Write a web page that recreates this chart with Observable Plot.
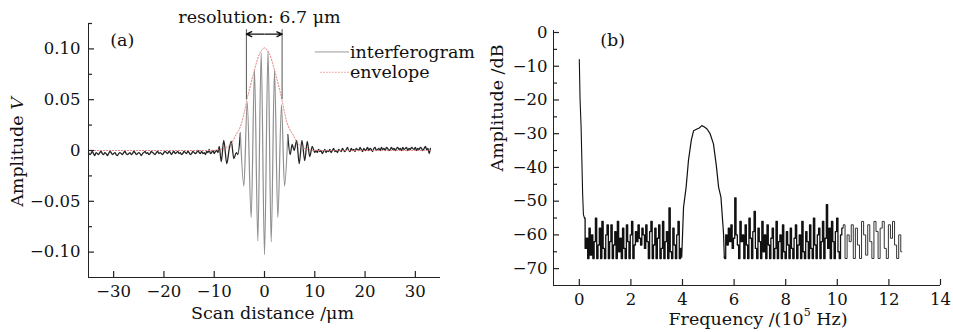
<!DOCTYPE html>
<html><head><meta charset="utf-8">
<script src="https://cdn.jsdelivr.net/npm/d3@7"></script>
<script src="https://cdn.jsdelivr.net/npm/@observablehq/plot@0.6"></script>
<style>
body{margin:0;background:#fff;}
#wrap{display:flex;width:953px;height:332px;overflow:hidden;}
svg{display:block;flex:none;}
</style></head><body><div id="wrap"></div>
<script>
// ---------- Panel (a): interferogram ----------
const xTicksA = [-30, -20, -10, 0, 10, 20, 30];
const yTicksA = [-0.10, -0.05, 0, 0.05, 0.10];
const yMinorA = [-0.075, -0.025, 0.025, 0.075, 0.125];
// noise before the fringes, sampled every 0.25 um starting at -35 um
const noiseLeftStart = -35, noiseStep = 0.25;
const noiseLeftY = [
-0.002,-0.004,-0.003,-0.001,-0.003,-0.005,-0.002,-0.003,-0.004,-0.002,
-0.001,-0.003,-0.004,-0.002,-0.003,-0.005,-0.003,-0.001,-0.002,-0.004,
-0.003,-0.002,-0.004,-0.005,-0.003,-0.002,-0.003,-0.004,-0.002,-0.001,
-0.003,-0.004,-0.003,-0.002,-0.004,-0.003,-0.001,-0.002,-0.004,-0.003,
-0.002,-0.003,-0.005,-0.003,-0.002,-0.001,-0.003,-0.002,-0.004,-0.003,
-0.001,-0.002,-0.003,-0.004,-0.002,-0.001,-0.003,-0.002,-0.003,-0.004,
-0.002,-0.001,-0.002,-0.003,-0.001,-0.002,-0.004,-0.002,-0.001,-0.003,
-0.002,-0.001,-0.003,-0.002,-0.004,-0.003,-0.001,-0.002,-0.003,-0.001,
-0.002,-0.004,-0.003,-0.001,-0.002,-0.003,-0.002,0.000,-0.002,-0.003,
-0.001,-0.003,-0.002,-0.004,-0.001,-0.002,0.001,-0.003,-0.002,0.000,
-0.003,-0.001,0.000];
const sideLX = [-9.25,-9.0,-8.6,-8.1,-7.5,-7.0,-6.6,-6.1,-5.6,-5.3,-4.8];
const sideLY = [-0.002,0.004,-0.011,0.010,-0.013,0.002,0.009,-0.008,-0.002,-0.004,0.017];
const fringeX = [-4.8,-4.1,-3.44,-2.65,-1.99,-1.33,-0.66,0,0.7,1.33,1.99,2.65,3.38,3.98,4.63];
const fringeY = [0.017,-0.035,0.048,-0.066,0.079,-0.089,0.096,-0.1025,0.098,-0.09,0.079,-0.066,0.045,-0.035,0.0155];
const sideRX = [4.63,5.1,5.5,5.9,6.4,6.9,7.45,8.0,8.5,9.0,9.5,10.0];
const sideRY = [0.0155,-0.004,0.006,0.000,0.010,-0.013,0.010,-0.010,0.009,-0.006,0.004,-0.002];
const noiseRightStart = 10.25;
const noiseRightY = [
0.000,-0.002,0.001,-0.001,0.000,-0.003,-0.001,0.001,-0.002,0.000,
-0.001,0.001,-0.002,0.000,0.002,-0.001,0.000,-0.002,0.001,0.000,
-0.001,0.002,0.000,-0.001,0.001,0.003,0.000,-0.001,0.002,0.000,
0.001,-0.001,0.002,0.001,0.000,0.003,0.001,-0.001,0.002,0.000,
0.001,0.003,0.000,0.002,0.001,-0.001,0.002,0.003,0.000,0.001,
0.002,0.000,0.003,0.001,0.002,0.000,0.003,0.002,0.000,0.001,
0.003,0.001,0.002,0.000,0.002,0.003,0.001,0.002,0.000,0.003,
0.001,0.002,0.003,0.000,0.002,0.001,0.003,0.002,0.001,0.003,
0.000,0.002,0.001,0.003,0.002,0.000,0.002,0.004,0.001,0.002,
-0.003,0.002];
const envX = [-35,-20,-12,-10,-9,-8,-7.5,-6.5,-5.5,-5,-4.5,-4,-3.5,-3,-2.5,-2,-1.5,-1,-0.5,0,0.5,1,1.5,2,2.5,3,3.5,4,4.5,5,5.5,6.5,7.5,8.5,10,20,33];
const envY = [0.000,0.000,0.000,0.000,0.001,0.002,0.003,0.008,0.017,0.021,0.028,0.038,0.050,0.060,0.070,0.079,0.088,0.095,0.099,0.101,0.099,0.095,0.088,0.079,0.070,0.060,0.049,0.037,0.027,0.021,0.017,0.008,0.003,0.001,0.000,0.000,0.000];
const resolutionX = [-3.6, 3.5];
const legendA = ["interferogram", "envelope"];
const titleA = "resolution: 6.7 μm";

// ---------- Panel (b): spectrum ----------
const xTicksB = [0, 2, 4, 6, 8, 10, 12, 14];
const yTicksB = [0, -10, -20, -30, -40, -50, -60, -70];
const yMinorB = [-5, -15, -25, -35, -45, -55, -65];
const spikeX = [0, 0.03, 0.07, 0.1, 0.13, 0.16, 0.2];
const spikeY = [-8, -20, -28, -38, -48, -54, -55];
const noiseBLStart = 0.2, noiseBStep = 0.05;
const noiseBL = [
-55,-64,-61,-67,-58,-66,-60,-67,-62,-55,
-67,-63,-58,-67,-56,-64,-67,-60,-57,-67,
-62,-57,-67,-63,-59,-67,-56,-65,-61,-67,
-58,-64,-67,-57,-62,-67,-60,-56,-67,-63,
-59,-62,-57,-61,-63,-58,-60,-64,-57,-62,
-67,-59,-56,-67,-63,-58,-67,-61,-57,-67,
-64,-56,-67,-62,-59,-67,-52,-65,-67,-58,
-63,-67,-60,-56,-67,-64];
const peakX = [3.97,4.04,4.14,4.23,4.34,4.43,4.56,4.65,4.75,4.85,4.95,5.07,5.2,5.31,5.4,5.49,5.59,5.62];
const peakY = [-66.6,-51.8,-45.9,-38,-32,-29.1,-28.6,-28.3,-27.6,-28,-28.6,-30,-33,-39.4,-45.9,-48.8,-59.6,-66.6];
const noiseBR1Start = 5.65;
const noiseBR1 = [
-67,-60,-63,-58,-62,-57,-64,-61,-49,-60,
-63,-67,-56,-62,-60,-67,-57,-63,-67,-55,
-61,-67,-59,-53,-64,-67,-58,-62,-67,-56,
-65,-60,-67,-57,-63,-67,-61,-58,-67,-64,
-56,-67,-62,-60,-67,-57,-65,-67,-59,-63,
-67,-58,-64,-67,-61,-57,-67,-63,-60,-67,
-56,-65,-67,-59,-62,-67,-57,-64,-67,-55,
-63,-67,-60,-58,-67,-62,-56,-67,-61,-51,
-64,-58,-67,-56,-62,-67,-59,-55,-65,-67,
-60,-58];
const noiseBR2Start = 10.26, noiseBR2Step = 0.08;
const noiseBR2 = [-57,-67,-60,-62,-57,-67,-58,-63,-67,-56,-60,-66,-57,-62,-67,-56,-59,-67,-58,-56,-64,-67,-57,-61,-56,-63,-67,-60,-65];

// ---------- build tables ----------
const pts = (xs, ys) => xs.map((x, i) => ({x, y: ys[i]}));
const grid = (start, step, ys) => ys.map((y, i) => ({x: +(start + i * step).toFixed(3), y}));
const darkL = [...grid(noiseLeftStart, noiseStep, noiseLeftY), ...pts(sideLX, sideLY)];
const darkR = [...pts(sideRX, sideRY), ...grid(noiseRightStart, noiseStep, noiseRightY)];
const fringe = pts(fringeX, fringeY);
const env = pts(envX, envY);

const spike = pts(spikeX, spikeY);
const nBL = grid(noiseBLStart, noiseBStep, noiseBL);
const peak = [nBL[nBL.length - 1], ...pts(peakX, peakY)];
const nBR1 = [peak[peak.length - 1], ...grid(noiseBR1Start, noiseBStep, noiseBR1)];
const nBR2 = [nBR1[nBR1.length - 1], ...grid(noiseBR2Start, noiseBR2Step, noiseBR2)];

const font = "'DejaVu Serif', serif";
const fmtA = d => d === 0 ? "0" : (d < 0 ? "\u2212" : "") + Math.abs(d).toFixed(2);
const fmtInt = d => (d < 0 ? "\u2212" : "") + Math.abs(d);

// inward tick marks drawn as short ticks hugging the axis lines (frame insets)
const inTicksX = (t, frameH, len) => Plot.tickX(t, {x: d => d, insetTop: frameH - len, stroke: "#222", strokeWidth: 1.2});
const inTicksY = (t, frameW, len) => Plot.tickY(t, {y: d => d, insetRight: frameW - len, stroke: "#222", strokeWidth: 1.2});

const plotA = Plot.plot({
  width: 480, height: 332,
  marginLeft: 88, marginRight: 40, marginTop: 23, marginBottom: 55,
  style: {fontFamily: font, fontSize: "16px", color: "#111", background: "transparent", overflow: "visible"},
  x: {domain: [-35, 35], label: null},
  y: {domain: [-0.125, 0.125], label: null},
  marks: [
    Plot.line(darkL, {x: "x", y: "y", stroke: "#262626", strokeWidth: 1.3, curve: "monotone-x"}),
    Plot.line(darkR, {x: "x", y: "y", stroke: "#262626", strokeWidth: 1.3, curve: "monotone-x"}),
    Plot.line(fringe, {x: "x", y: "y", stroke: "#8f8f8f", strokeWidth: 1.2, curve: "monotone-x"}),
    Plot.line(env, {x: "x", y: "y", stroke: "#e07a7a", strokeWidth: 1, strokeDasharray: "1.2,1.8", curve: "monotone-x"}),
    Plot.ruleX(resolutionX, {x: d => d, y1: 0.05, y2: 0.119, stroke: "#555", strokeWidth: 1}),
    Plot.arrow(resolutionX, {x1: d => d / 30, x2: d => d, y1: 0.1145, y2: 0.1145, stroke: "#111", strokeWidth: 1.4, headLength: 8, headAngle: 50}),
    Plot.ruleY([0.097], {x1: 10.1, x2: 16.9, stroke: "#999", strokeWidth: 1}),
    Plot.ruleY([0.077], {x1: 11.2, x2: 16.9, stroke: "#e07a7a", strokeWidth: 1, strokeDasharray: "1.2,1.8"}),
    Plot.text(legendA, {x: 17, y: (d, i) => [0.097, 0.077][i], textAnchor: "start", fontSize: 17.5}),
    Plot.text([titleA], {x: -1, y: 0.1315, fontSize: 17.5}),
    Plot.text(["(a)"], {x: -28.3, y: 0.108, fontSize: 17.5}),
    Plot.ruleX([-35], {stroke: "#222"}),
    Plot.ruleY([-0.125], {stroke: "#222"}),
    inTicksX(xTicksA, 254, 6),
    inTicksY(yTicksA, 352, 6),
    inTicksY(yMinorA, 352, 4),
    Plot.axisX(xTicksA, {anchor: "bottom", tickSize: 0, tickPadding: 8, tickFormat: fmtInt, label: null, fontSize: 16.5}),
    Plot.axisY(yTicksA, {anchor: "left", tickSize: 0, tickPadding: 8, tickFormat: fmtA, label: null, fontSize: 16.5}),
    Plot.text(["Scan distance /\u03bcm"], {frameAnchor: "bottom", dx: 8, dy: 41, fontSize: 17.5})
  ]
});

const plotB = Plot.plot({
  width: 473, height: 332,
  marginLeft: 73, marginRight: 13, marginTop: 32, marginBottom: 47,
  style: {fontFamily: font, fontSize: "16px", color: "#111", background: "transparent", overflow: "visible"},
  x: {domain: [-1, 14], label: null},
  y: {domain: [-75, 0], label: null},
  marks: [
    Plot.line(spike, {x: "x", y: "y", stroke: "#111", strokeWidth: 1.1}),
    Plot.line(nBL, {x: "x", y: "y", stroke: "#111", strokeWidth: 1.3, curve: "step"}),
    Plot.line(peak, {x: "x", y: "y", stroke: "#111", strokeWidth: 1.2}),
    Plot.line(nBR1, {x: "x", y: "y", stroke: "#111", strokeWidth: 1.3, curve: "step"}),
    Plot.line(nBR2, {x: "x", y: "y", stroke: "#333", strokeWidth: 1, curve: "step"}),
    Plot.text(["(b)"], {x: 1.29, y: -2.4, fontSize: 17.5}),
    Plot.ruleX([-1], {y1: -75, y2: 0.6, stroke: "#222"}),
    Plot.ruleY([-75], {stroke: "#222"}),
    inTicksX(xTicksB, 253, 6),
    inTicksY(yTicksB, 387, 6),
    inTicksY(yMinorB, 387, 4),
    Plot.axisX(xTicksB, {anchor: "bottom", tickSize: 0, tickPadding: 8, tickFormat: fmtInt, label: null, fontSize: 16.5}),
    Plot.axisY(yTicksB, {anchor: "left", tickSize: 0, tickPadding: 6, tickFormat: fmtInt, label: null, fontSize: 16.5}),
    Plot.text(["Amplitude /dB"], {frameAnchor: "left", rotate: -90, dx: -56, dy: 12.5, fontSize: 17.5})
  ]
});

// labels with italic / superscript parts
d3.select(plotA).append("text")
  .attr("transform", "translate(18,152) rotate(-90)")
  .attr("text-anchor", "middle").attr("dominant-baseline", "middle")
  .attr("fill", "#111").style("font-size", "17.5px").style("font-family", font)
  .call(t => { t.append("tspan").text("Amplitude "); t.append("tspan").attr("font-style", "italic").text("V"); });

d3.select(plotB).append("text")
  .attr("x", 278).attr("y", 320)
  .attr("text-anchor", "middle").attr("dominant-baseline", "middle")
  .attr("fill", "#111").style("font-size", "17.5px").style("font-family", font)
  .call(t => {
    t.append("tspan").text("Frequency /(10");
    t.append("tspan").attr("font-size", "11px").attr("dy", "-7").text("5");
    t.append("tspan").attr("dy", "7").text(" Hz)");
  });

document.getElementById("wrap").append(plotA, plotB);
</script></body></html>
